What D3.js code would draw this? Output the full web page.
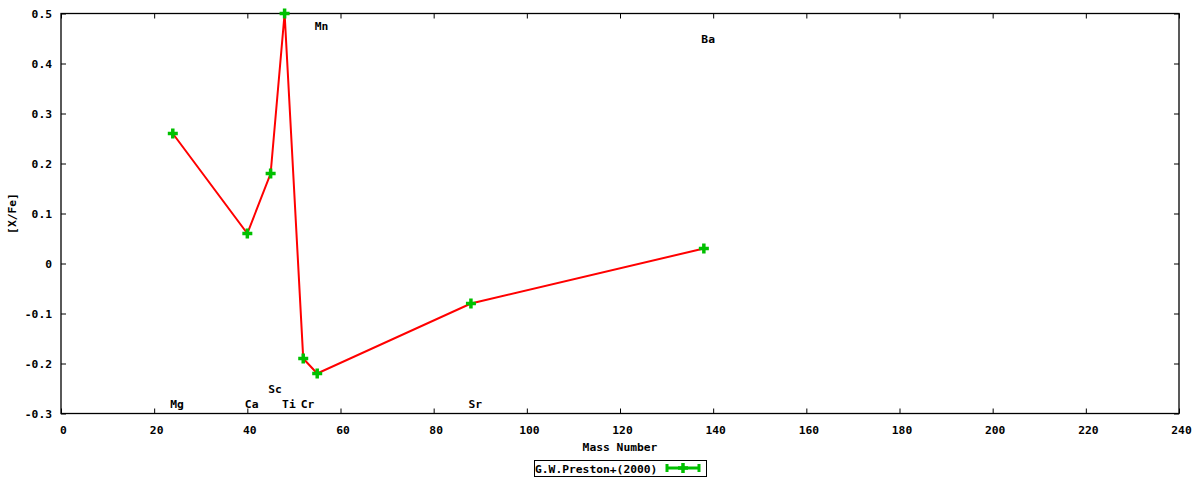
<!DOCTYPE html>
<html><head><meta charset="utf-8">
<script src="https://cdn.jsdelivr.net/npm/d3@7/dist/d3.min.js"></script>
<style>body{margin:0;background:#fff}svg text{font-family:"DejaVu Sans Mono",monospace;font-weight:bold;font-size:11.3px;fill:#000}</style>
</head><body><svg id="c" width="1200" height="480"></svg>
<script>
const elements = ["Mg","Ca","Sc","Ti","Cr","Mn","Sr","Ba"];
const massNumbers = [24, 40, 45, 48, 52, 55, 88, 138];
const xFe = [0.26, 0.06, 0.18, 0.50, -0.19, -0.22, -0.08, 0.03];
const labelY = [-0.28, -0.28, -0.25, -0.28, -0.28, 0.475, -0.28, 0.45];
const xTicks = [0,20,40,60,80,100,120,140,160,180,200,220,240];
const yTicks = [-0.3,-0.2,-0.1,0,0.1,0.2,0.3,0.4,0.5];
const seriesName = "G.W.Preston+(2000)";

const svg = d3.select("#c");
const L=61, R=1179, T=13.5, B=413.5;
const x = d3.scaleLinear().domain([0,240]).range([L,R]);
const y = d3.scaleLinear().domain([-0.3,0.5]).range([B,T]);

svg.append("rect").attr("x",L).attr("y",T).attr("width",R-L).attr("height",B-T)
  .attr("fill","none").attr("stroke","#000").attr("stroke-width",1.3);

const fmt = v => (Math.abs(v)<1e-9 ? "0" : d3.format(".1f")(v).replace("−","-"));
const gx = svg.append("g").attr("transform",`translate(0,${B})`)
  .call(d3.axisBottom(x).tickValues(xTicks).tickSize(-5).tickPadding(12).tickFormat(d3.format("d")));
gx.select(".domain").remove();
gx.selectAll(".tick text").attr("dx",2);
const gxt = svg.append("g").attr("transform",`translate(0,${T})`)
  .call(d3.axisTop(x).tickValues(xTicks).tickSize(-5).tickFormat(""));
gxt.select(".domain").remove();
const gy = svg.append("g").attr("transform",`translate(${L},0)`)
  .call(d3.axisLeft(y).tickValues(yTicks).tickSize(-5).tickPadding(9).tickFormat(fmt));
gy.select(".domain").remove();
const gyr = svg.append("g").attr("transform",`translate(${R},0)`)
  .call(d3.axisRight(y).tickValues(yTicks).tickSize(-5).tickFormat(""));
gyr.select(".domain").remove();
svg.selectAll(".tick line").attr("stroke","#000");
svg.selectAll(".tick text").style("font-family","DejaVu Sans Mono").style("font-weight","bold").style("font-size","11.3px").attr("fill","#000");

svg.append("text").attr("x",(L+R)/2).attr("y",451).attr("text-anchor","middle").text("Mass Number");
svg.append("text").attr("transform",`translate(16,${(T+B)/2}) rotate(-90)`).attr("text-anchor","middle").text("[X/Fe]");

elements.forEach((e,i)=>{
  svg.append("text").attr("x",x(massNumbers[i])-2.5).attr("y",y(labelY[i])+4).text(e);
});

const pts = massNumbers.map((m,i)=>[m,xFe[i]]);
svg.append("path").datum(pts).attr("fill","none").attr("stroke","#ff0000").attr("stroke-width",2)
  .attr("d", d3.line().x(d=>x(d[0])).y(d=>y(d[1])));

const green="#00c000";
const plus = (g,cx,cy)=>{
  g.append("path").attr("d",`M${cx-5},${cy}H${cx+5}M${cx},${cy-5}V${cy+5}`)
   .attr("stroke",green).attr("stroke-width",3.5).attr("fill","none");
};
const mg = svg.append("g");
pts.forEach(d=>plus(mg,x(d[0]),y(d[1])));

svg.append("rect").attr("x",534.5).attr("y",460.5).attr("width",172).attr("height",16)
  .attr("fill","none").attr("stroke","#000").attr("stroke-width",1);
svg.append("text").attr("x",535).attr("y",472.5).text(seriesName);
const lg = svg.append("g");
lg.append("path").attr("d","M666,468H700M667,464V472M699,464V472").attr("stroke",green).attr("stroke-width",3).attr("fill","none");
plus(lg,683,468);
</script></body></html>
